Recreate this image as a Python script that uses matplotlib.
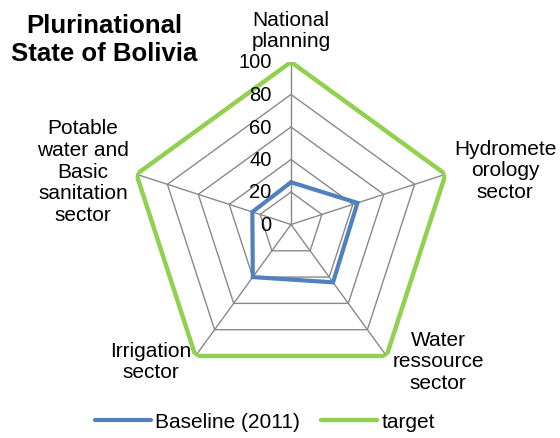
import numpy as np
import matplotlib
matplotlib.use("Agg")
import matplotlib.pyplot as plt

categories = ["National planning", "Hydrometeorology sector", "Water ressource sector",
              "Irrigation sector", "Potable water and Basic sanitation sector"]
baseline = [26, 43, 44, 40, 25]
target = [100, 100, 100, 100, 100]
rticks = [0, 20, 40, 60, 80, 100]

plt.rcParams['font.family'] = ['Liberation Sans', 'DejaVu Sans']

W, H = 560, 439
fig = plt.figure(figsize=(W / 100, H / 100), dpi=100)
cx, cy, R = 291, 225.5, 162.5
ax = fig.add_axes([(cx - R) / W, (H - cy - R) / H, 2 * R / W, 2 * R / H], projection='polar')
ax.set_theta_offset(np.pi / 2)
ax.set_theta_direction(-1)
ax.set_ylim(0, 100)
ax.axis('off')

n = len(categories)
angles = np.linspace(0, 2 * np.pi, n, endpoint=False)
closed = np.concatenate([angles, angles[:1]])

grid_c = '#898989'
for r in rticks[1:]:
    ax.plot(closed, [r] * (n + 1), color=grid_c, lw=1.0, zorder=1)
for a in angles:
    ax.plot([a, a], [0, 100], color=grid_c, lw=1.0, zorder=1)

ax.plot(closed, baseline + baseline[:1], color='#4F81BD', lw=3.0, zorder=3,
        solid_joinstyle='miter', solid_capstyle='round', label='Baseline (2011)')
ax.plot(closed, target + target[:1], color='#92D050', lw=3.2, zorder=3,
        solid_joinstyle='miter', solid_capstyle='round', label='target')

for r in rticks:
    ax.annotate(str(r), xy=(0, r), xytext=(-14, 0), textcoords='offset points',
                ha='right', va='center', fontsize=14.5, color='#000000', zorder=4)

def ftext(x, y, s, **kw):
    fig.text(x / W, 1 - y / H, s, **kw)

lab_kw = dict(fontsize=15, ha='center', va='center', linespacing=1.17)
ftext(291, 31, "National\nplanning", **lab_kw)
ftext(505, 171, "Hydromete\norology\nsector", **lab_kw)
ftext(438, 362, "Water\nressource\nsector", **lab_kw)
ftext(151, 362, "Irrigation\nsector", **lab_kw)
ftext(83, 172, "Potable\nwater and\nBasic\nsanitation\nsector", **lab_kw)

ftext(104, 40, "Plurinational\nState of Bolivia", fontsize=18.5, fontweight='bold',
      ha='center', va='center', linespacing=1.2)

fig.legend(loc='center', bbox_to_anchor=(265 / W, 1 - 423 / H), ncol=2, frameon=False,
           fontsize=15, handlelength=2.7, handletextpad=0.2, columnspacing=1.0,
           borderpad=0, borderaxespad=0)

fig.savefig("out.png", dpi=100)
